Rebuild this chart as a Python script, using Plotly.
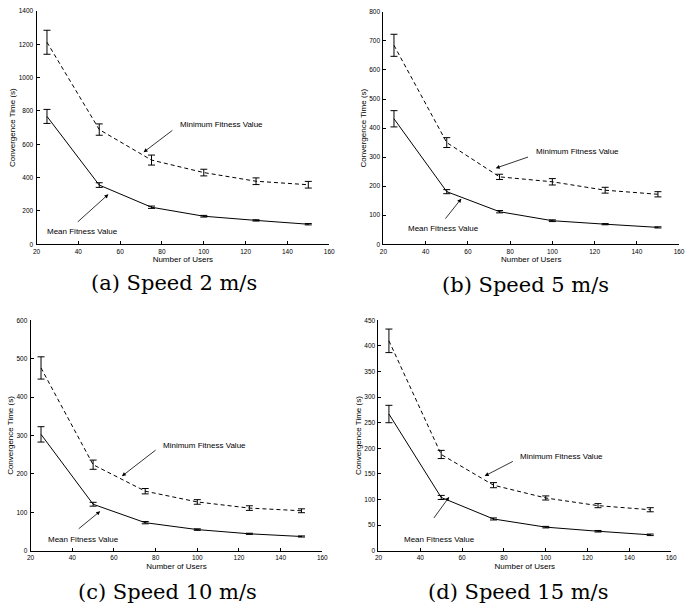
import plotly.graph_objects as go

users = [25, 50, 75, 100, 125, 150]

# (a) Speed 2 m/s
a_min = [1212, 688, 505, 430, 378, 357]
a_min_err = [72, 34, 30, 20, 20, 20]
a_mean = [767, 355, 222, 168, 143, 120]
a_mean_err = [42, 14, 7, 5, 4, 4]

# (b) Speed 5 m/s
b_min = [685, 350, 232, 215, 186, 172]
b_min_err = [38, 17, 9, 11, 10, 9]
b_mean = [432, 181, 112, 81, 69, 58]
b_mean_err = [28, 7, 4, 3, 2, 2]

# (c) Speed 10 m/s
c_min = [476, 224, 155, 127, 111, 104]
c_min_err = [29, 12, 7, 6, 6, 5]
c_mean = [303, 121, 73, 55, 44, 37]
c_mean_err = [20, 5, 3, 2, 1.5, 1.5]

# (d) Speed 15 m/s
d_min = [410, 188, 128, 103, 88, 80]
d_min_err = [23, 8, 5, 4, 4, 4]
d_mean = [267, 104, 62, 46, 38, 31]
d_mean_err = [17, 4, 2, 1.5, 1.5, 1.5]

captions = ["(a) Speed 2 m/s", "(b) Speed 5 m/s", "(c) Speed 10 m/s", "(d) Speed 15 m/s"]
y_max = [1400, 800, 600, 450]
y_step = [200, 100, 100, 50]
x_ticks = [20, 40, 60, 80, 100, 120, 140, 160]

W, H = 689, 614
# panel boxes in pixels: (left, right, top, bottom)
boxes = [(33, 330, 7, 243), (385, 685, 8, 243), (27, 323, 320, 553), (380, 677, 320, 553)]
caption_pos = [(172, 282), (529, 284), (166, 595), (522, 595)]

# annotation placements in data coords
min_text = [(87.7, 716), (91.3, 319), (82.6, 275), (86.9, 184)]
min_tail = [(85.7, 690), (89.2, 302), (80.7, 265), (85.0, 176)]
min_head = [(71.2, 552), (73.2, 262), (63.8, 194), (70.8, 146)]
mean_text = [(41.8, 77), (48.3, 55), (45.4, 30), (49.1, 21)]
mean_tail = [(39, 126), (48.8, 83), (42.4, 54), (46, 61)]
mean_head = [(54.4, 300), (56.9, 157), (53.4, 103), (53.8, 105)]

series = [
    (a_min, a_min_err, a_mean, a_mean_err),
    (b_min, b_min_err, b_mean, b_mean_err),
    (c_min, c_min_err, c_mean, c_mean_err),
    (d_min, d_min_err, d_mean, d_mean_err),
]

SANS = "Liberation Sans, Arial, sans-serif"
fig = go.Figure()
annotations = []
layout = {}

for i, (mn, mne, me, mee) in enumerate(series):
    k = "" if i == 0 else str(i + 1)
    xa, ya = "x" + k, "y" + k
    fig.add_trace(go.Scatter(
        x=users, y=mn, xaxis=xa, yaxis=ya, mode="lines",
        line=dict(color="black", width=1, dash="4px,3px"),
        error_y=dict(type="data", array=mne, color="black", thickness=1, width=3.5),
        showlegend=False, name="Minimum Fitness Value"))
    fig.add_trace(go.Scatter(
        x=users, y=me, xaxis=xa, yaxis=ya, mode="lines",
        line=dict(color="black", width=1),
        error_y=dict(type="data", array=mee, color="black", thickness=1, width=3.5),
        showlegend=False, name="Mean Fitness Value"))
    l, r, t, b = boxes[i]
    common = dict(showline=True, linecolor="black", linewidth=1, ticks="inside",
                  ticklen=3, tickcolor="black", tickwidth=1, showgrid=False,
                  zeroline=False, mirror=False,
                  tickfont=dict(family=SANS, size=6.5, color="black"))
    layout["xaxis" + k] = dict(domain=[l / W, r / W], anchor=ya, range=[20, 160],
                               tickvals=x_ticks, ticklabelstandoff=1,
                               title=dict(text="Number of Users", standoff=2,
                                          font=dict(family=SANS, size=8, color="black")),
                               **common)
    layout["yaxis" + k] = dict(domain=[1 - b / H, 1 - t / H], anchor=xa,
                               range=[0, y_max[i]], dtick=y_step[i], tick0=0,
                               ticklabelstandoff=1,
                               title=dict(text="Convergence Time (s)", standoff=1,
                                          font=dict(family=SANS, size=8, color="black")),
                               **common)
    # labels and arrows
    annotations.append(dict(x=min_text[i][0], y=min_text[i][1], xref=xa, yref=ya,
                            text="Minimum Fitness Value", showarrow=False,
                            xanchor="left", yanchor="middle",
                            font=dict(family=SANS, size=8, color="black")))
    annotations.append(dict(x=min_head[i][0], y=min_head[i][1], ax=min_tail[i][0], ay=min_tail[i][1],
                            xref=xa, yref=ya, axref=xa, ayref=ya, text="", showarrow=True,
                            arrowhead=2, arrowsize=1, arrowwidth=0.8, arrowcolor="black"))
    annotations.append(dict(x=mean_text[i][0], y=mean_text[i][1], xref=xa, yref=ya,
                            text="Mean Fitness Value", showarrow=False,
                            xanchor="center", yanchor="middle",
                            font=dict(family=SANS, size=8, color="black")))
    annotations.append(dict(x=mean_head[i][0], y=mean_head[i][1], ax=mean_tail[i][0], ay=mean_tail[i][1],
                            xref=xa, yref=ya, axref=xa, ayref=ya, text="", showarrow=True,
                            arrowhead=2, arrowsize=1, arrowwidth=0.8, arrowcolor="black"))
    cx, cy = caption_pos[i]
    annotations.append(dict(x=cx / W, y=1 - cy / H, xref="paper", yref="paper",
                            text=captions[i], showarrow=False, xanchor="center", yanchor="middle",
                            font=dict(family="DejaVu Serif, serif", size=21, color="black")))

fig.update_layout(width=W, height=H, margin=dict(l=0, r=0, t=0, b=0),
                  paper_bgcolor="white", plot_bgcolor="white",
                  annotations=annotations, **layout)
fig.write_html("out.html", config={"displayModeBar": False},
               post_script="document.body.style.margin='0';document.body.style.padding='0';")
